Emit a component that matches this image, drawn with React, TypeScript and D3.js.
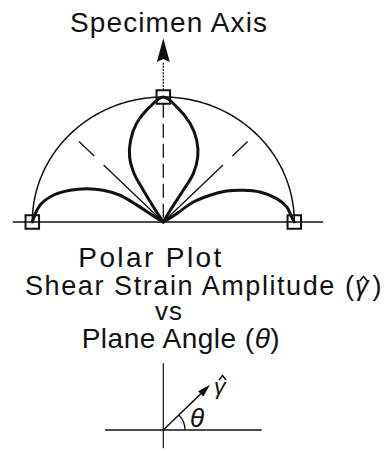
import React from "react";
import * as d3 from "d3";

const W = 390;
const H = 451;

// Normalised shear strain amplitude (1 = reference circle) against plane angle in degrees
const rightLobeAngle = [0, 2.3, 7.3, 12.2, 18, 22.6, 27.1, 31, 34.9, 33.3, 33];
const rightLobeAmp = [1.0, 0.981, 0.95, 0.886, 0.776, 0.661, 0.544, 0.416, 0.279, 0.122, 0];
const centerLobeAngle = [60, 60.1, 59, 59.4, 63.2, 68.7, 75.5, 83.5, 90, 96.5, 104.5, 110.8, 116.2, 119.8, 121, 122, 120];
const centerLobeAmp = [0, 0.138, 0.296, 0.45, 0.583, 0.702, 0.815, 0.925, 1.0, 0.925, 0.815, 0.702, 0.583, 0.45, 0.296, 0.142, 0];
const leftLobeAngle = [148, 147, 146, 147.1, 151, 155.5, 160.4, 165.7, 171.9, 180];
const leftLobeAmp = [0, 0.09, 0.245, 0.394, 0.524, 0.643, 0.756, 0.867, 0.951, 1.0];

// Plane angles where the amplitude reaches its maximum
const peakAngles = [0, 90, 180];
const peakAmps = [1, 1, 1];

// 45 degree guide rays and how far out they reach
const guideAngles = [45, 135];
const guideReach = 0.91;

// Angle of the sketch vector in the key
const keyAngle = 44;

const titleText = "Specimen Axis";
const captionTitle = "Polar Plot";
const captionLine1 = "Shear Strain Amplitude (";
const captionVs = "vs";
const captionLine3 = "Plane Angle (";

const FONT = "'Liberation Sans', Arial, Helvetica, sans-serif";
const INK = "#111";

// Plot geometry
const cx = 163.3;
const cy = 222;
const x = d3.scaleLinear().domain([-1, 1]).range([cx - 131, cx + 131]);
const y = d3.scaleLinear().domain([0, 1]).range([cy, cy - 125]);

const rad = (deg: number) => (deg * Math.PI) / 180;
const polar = (deg: number, r: number): [number, number] => [
  x(r * Math.cos(rad(deg))),
  y(r * Math.sin(rad(deg))),
];

const smooth = d3.line().curve(d3.curveCatmullRom.alpha(0.5));
const straight = d3.line();

const lobePath = (angles: number[], amps: number[]) =>
  smooth(angles.map((a, i) => polar(a, amps[i]))) as string;

// Key sketch geometry
const kx = 163.3;
const ky = 430;

export default function App() {
  const outer = straight(d3.range(0, 180.5, 1).map((a) => polar(a, 1))) as string;
  const sq = 13.5;

  const [topX, topY] = polar(90, 1);
  const shaftTop = y(1.28);
  const tip = y(1.47);

  const keyLen = 65;
  const keyTipX = kx + keyLen * Math.cos(rad(keyAngle));
  const keyTipY = ky - keyLen * Math.sin(rad(keyAngle));
  const headLen = 13;
  const headHalf = 3.8;
  const ux = Math.cos(rad(keyAngle));
  const uy = -Math.sin(rad(keyAngle));
  const bx = keyTipX - ux * headLen;
  const by = keyTipY - uy * headLen;
  const keyArc = d3.path();
  keyArc.arc(kx, ky, 21.7, 0, -rad(keyAngle), true);

  const hat = (hx: number, hy: number, w: number, h: number) =>
    `M${hx - w},${hy + h}L${hx},${hy}L${hx + w},${hy + h}`;

  return (
    <svg width={W} height={H} style={{ display: "block", position: "absolute", left: 0, top: 0, background: "#fff" }}>
      <rect width={W} height={H} fill="#fff" />

      {/* title */}
      <text x={70} y={32} fontFamily={FONT} fontSize={28} fill={INK} textLength={197} lengthAdjust="spacing">
        {titleText}
      </text>

      {/* specimen axis arrow */}
      <line x1={topX} x2={topX} y1={topY - sq / 2} y2={shaftTop} stroke={INK} strokeWidth={1.3} strokeDasharray="2 1.2" />
      <path
        d={`M${topX},${tip}L${topX - 6.5},${shaftTop}L${topX},${shaftTop - 3}L${topX + 6.5},${shaftTop}Z`}
        fill={INK}
      />

      {/* base line */}
      <line x1={x(-1.15)} x2={x(1.22)} y1={y(0)} y2={y(0)} stroke={INK} strokeWidth={1.5} />

      {/* reference circle */}
      <path d={outer} fill="none" stroke={INK} strokeWidth={1.5} />

      {/* vertical dashed axis */}
      <line x1={topX} x2={topX} y1={topY + sq / 2} y2={y(0)} stroke={INK} strokeWidth={1.3} strokeDasharray="14 6" />

      {/* 45 degree guides */}
      {guideAngles.map((a) => {
        const [gx, gy] = polar(a, guideReach);
        return (
          <line key={a} x1={gx} y1={gy} x2={x(0)} y2={y(0)} stroke={INK} strokeWidth={1.3} strokeDasharray="21 13 300" />
        );
      })}

      {/* amplitude lobes */}
      <path d={lobePath(leftLobeAngle, leftLobeAmp)} fill="none" stroke={INK} strokeWidth={3} strokeLinejoin="round" strokeLinecap="round" />
      <path d={lobePath(centerLobeAngle, centerLobeAmp)} fill="none" stroke={INK} strokeWidth={3} strokeLinejoin="round" strokeLinecap="round" />
      <path d={lobePath(rightLobeAngle, rightLobeAmp)} fill="none" stroke={INK} strokeWidth={3} strokeLinejoin="round" strokeLinecap="round" />

      {/* peak markers */}
      {peakAngles.map((a, i) => {
        const [px, py] = polar(a, peakAmps[i]);
        return (
          <rect key={a} x={px - sq / 2} y={py - sq / 2} width={sq} height={sq} fill="none" stroke={INK} strokeWidth={2} />
        );
      })}

      {/* caption */}
      <text x={78.3} y={266.7} fontFamily={FONT} fontSize={28} fill={INK} textLength={143} lengthAdjust="spacing">
        {captionTitle}
      </text>
      <text x={25} y={295} fontFamily={FONT} fontSize={27} fill={INK} textLength={329} lengthAdjust="spacing">
        {captionLine1}
      </text>
      <text x={355} y={295} fontFamily={FONT} fontSize={27} fontStyle="italic" fill={INK}>
        γ
      </text>
      <path d={hat(363.5, 276.5, 3.8, 4.5)} fill="none" stroke={INK} strokeWidth={1.5} />
      <text x={372.5} y={295} fontFamily={FONT} fontSize={27} fill={INK}>
        )
      </text>
      <text x={155} y={320} fontFamily={FONT} fontSize={26} fill={INK} textLength={27} lengthAdjust="spacing">
        {captionVs}
      </text>
      <text x={81.7} y={348.3} fontFamily={FONT} fontSize={28} fill={INK} textLength={198} lengthAdjust="spacing">
        {captionLine3}
        <tspan fontStyle="italic">θ</tspan>)
      </text>

      {/* key sketch */}
      <line x1={kx - 58.3} x2={kx + 98.4} y1={ky} y2={ky} stroke={INK} strokeWidth={1.4} />
      <line x1={kx} x2={kx} y1={ky - 66.7} y2={ky + 18.3} stroke={INK} strokeWidth={1.2} />
      <line x1={kx} y1={ky} x2={bx} y2={by} stroke={INK} strokeWidth={1.4} />
      <path
        d={`M${keyTipX},${keyTipY}L${bx - uy * headHalf},${by + ux * headHalf}L${bx + uy * headHalf},${by - ux * headHalf}Z`}
        fill={INK}
      />
      <path d={keyArc.toString()} fill="none" stroke={INK} strokeWidth={1.3} />
      <text x={190} y={426.5} fontFamily={FONT} fontSize={26} fontStyle="italic" fill={INK}>
        θ
      </text>
      <text x={214} y={393.6} fontFamily={FONT} fontSize={23} fontStyle="italic" fill={INK}>
        γ
      </text>
      <path d={hat(222.5, 375.5, 3.5, 4.5)} fill="none" stroke={INK} strokeWidth={1.5} />
    </svg>
  );
}
